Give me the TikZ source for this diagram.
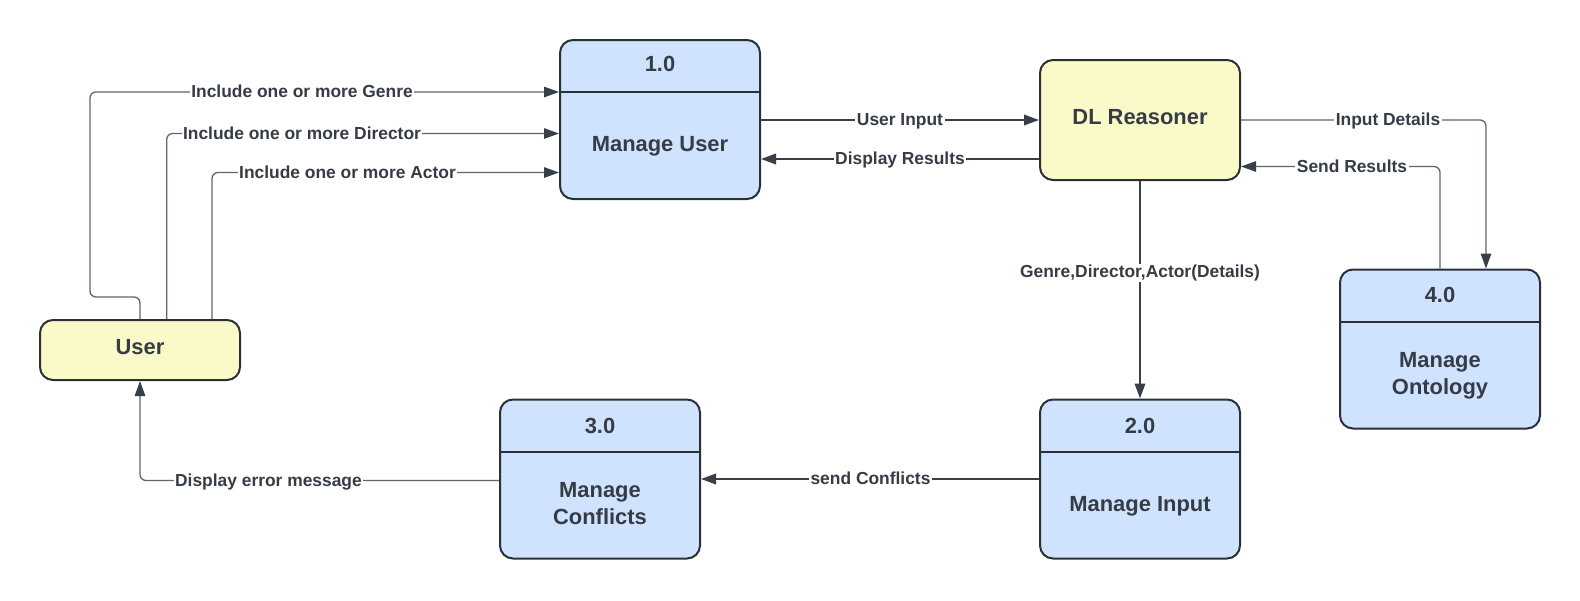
\documentclass[tikz,border=0pt]{standalone}
\usepackage{fontspec}
\setmainfont{Liberation Sans}
\usetikzlibrary{arrows.meta,calc}
\definecolor{procfill}{HTML}{CFE3FE}
\definecolor{entfill}{HTML}{FAFAC8}
\definecolor{boxc}{HTML}{2B2F36}
\definecolor{txtc}{HTML}{353C46}
\definecolor{thinc}{HTML}{60666F}
\definecolor{thickc}{HTML}{393F48}
\tikzset{
  boxbase/.style={draw=boxc, line width=2pt, rounded corners=13pt, minimum width=200pt, inner sep=0pt},
  procbox/.style={boxbase, fill=procfill, minimum height=159pt},
  entbox/.style={boxbase, fill=entfill},
  divider/.style={draw=boxc, line width=2pt},
  boxtxt/.style={text=txtc, font=\fontsize{21.9}{26.5}\selectfont\bfseries, inner sep=0pt, align=center},
  lbl/.style={text=txtc, font=\fontsize{17.4}{20}\selectfont\bfseries, fill=white, inner xsep=1.5pt, inner ysep=1pt, anchor=base},
  tipc/.style={-{Triangle[length=15pt,width=10.5pt,color=thickc]}},
  thinconn/.style={draw=thinc, line width=1.3pt, rounded corners=6pt, tipc},
  thickconn/.style={draw=thickc, line width=2pt, tipc},
}
\begin{document}
\begin{tikzpicture}[x=1pt,y=-1pt]
\useasboundingbox[fill=white] (0,0) rectangle (1580,600);

% boxes
\node[procbox] (p1) at (660,119.5) {};
\node[entbox, minimum height=120pt] (dl) at (1140,120) {};
\node[procbox] (p4) at (1440,349) {};
\node[procbox] (p2) at (1140,479) {};
\node[procbox] (p3) at (600,479) {};
\node[entbox, minimum height=60pt] (user) at (140,350) {};

% connectors
\draw[thinconn] (user.north) -- (140,297) -- (90,297) -- (90,92) -- (p1.west |- 0,92);
\draw[thinconn] ([xshift=26.7pt]user.north) |- (p1.west |- 0,133.5);
\draw[thinconn] ([xshift=72pt]user.north) |- (p1.west |- 0,172.5);
\draw[thickconn] (p1.east |- 0,120) -- (dl.west |- 0,120);
\draw[thickconn] (dl.west |- 0,159) -- (p1.east |- 0,159);
\draw[thinconn] (dl.east |- 0,120) -| (p4.north -| 1486,0);
\draw[thinconn] (p4.north) |- (dl.east |- 0,166.5);
\draw[thickconn] (dl.south) -- (p2.north);
\draw[thickconn] (p2.west) -- (p3.east);
\draw[thinconn] (p3.west |- 0,480.5) -| (user.south);

% dividers
\draw[divider] (p1.west |- 0,92) -- (p1.east |- 0,92);
\draw[divider] (p4.west |- 0,322) -- (p4.east |- 0,322);
\draw[divider] (p2.west |- 0,452) -- (p2.east |- 0,452);
\draw[divider] (p3.west |- 0,452) -- (p3.east |- 0,452);

% box texts
\node[boxtxt, anchor=base] (p1n) at (660,71.5) {1.0};
\node[boxtxt, anchor=base] (p1t) at (660,151) {Manage User};
\node[boxtxt, anchor=base] (dlt) at (1140,124.5) {DL Reasoner};
\node[boxtxt, anchor=base] (usert) at (140,354.5) {User};
\node[boxtxt, anchor=base] (p4n) at (1440,302) {4.0};
\node[boxtxt] (p4t) at (1440,375.8) {Manage\\Ontology};
\node[boxtxt, anchor=base] (p2n) at (1140,433) {2.0};
\node[boxtxt, anchor=base] (p2t) at (1140,511) {Manage Input};
\node[boxtxt, anchor=base] (p3n) at (600,433) {3.0};
\node[boxtxt] (p3t) at (600,503.5) {Manage\\Conflicts};

% labels
\node[lbl] (lgenre) at (302,97.5) {Include one or more Genre};
\node[lbl] (ldir) at (302,139) {Include one or more Director};
\node[lbl] (lact) at (347.5,178) {Include one or more Actor};
\node[lbl] (luin) at (900,125.5) {User Input};
\node[lbl] (ldres) at (900,164.5) {Display Results};
\node[lbl] (lidet) at (1388,125) {Input Details};
\node[lbl] (lsres) at (1352,172) {Send Results};
\node[lbl] (lgda) at (1140,277.5) {Genre,Director,Actor(Details)};
\node[lbl] (lconf) at (870.5,484.5) {send Conflicts};
\node[lbl] (lerr) at (268.5,486) {Display error message};
\end{tikzpicture}
\end{document}
